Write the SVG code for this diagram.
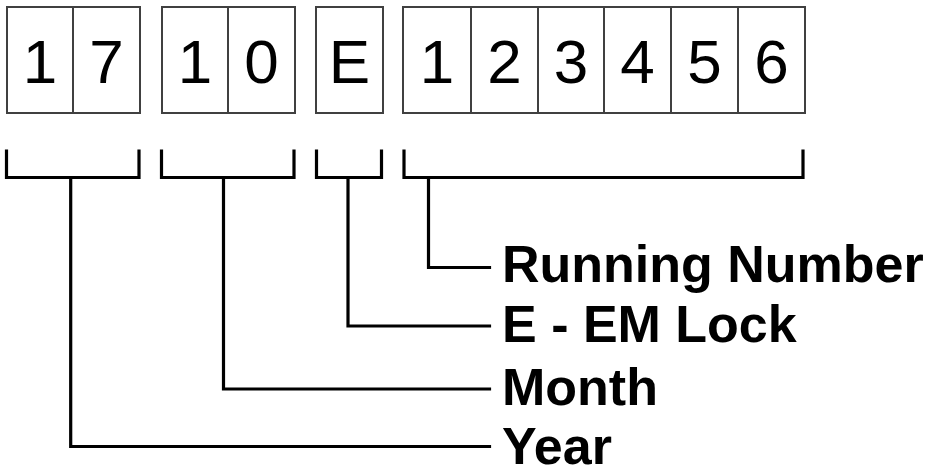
<svg xmlns="http://www.w3.org/2000/svg" width="928" height="470" viewBox="0 0 928 470">
<style>
.box{fill:#fff;stroke:#404040;stroke-width:2}
.dg{font-family:"Liberation Sans",Arial,sans-serif;font-size:62px;fill:#000;text-anchor:middle}
.ln{fill:none;stroke:#000;stroke-width:3.2;stroke-linecap:square;stroke-linejoin:miter}
.lb{font-family:"Liberation Sans",Arial,sans-serif;font-size:52px;font-weight:bold;fill:#000}
</style>
<rect width="928" height="470" fill="#fff"/>
<g id="year-boxes">
<rect class="box" x="7" y="7" width="133" height="106"/>
<line class="box" x1="73" y1="7" x2="73" y2="113"/>
<text class="dg" x="40" y="83">1</text>
<text class="dg" x="106.5" y="83">7</text>
</g>
<g id="month-boxes">
<rect class="box" x="162" y="7" width="133" height="106"/>
<line class="box" x1="228" y1="7" x2="228" y2="113"/>
<text class="dg" x="195" y="83">1</text>
<text class="dg" x="261.5" y="83">0</text>
</g>
<g id="type-box">
<rect class="box" x="316" y="7" width="67" height="106"/>
<text class="dg" x="349.5" y="83">E</text>
</g>
<g id="number-boxes">
<rect class="box" x="403" y="7" width="402" height="106"/>
<line class="box" x1="471" y1="7" x2="471" y2="113"/>
<line class="box" x1="538" y1="7" x2="538" y2="113"/>
<line class="box" x1="604" y1="7" x2="604" y2="113"/>
<line class="box" x1="671" y1="7" x2="671" y2="113"/>
<line class="box" x1="738" y1="7" x2="738" y2="113"/>
<text class="dg" x="437" y="83">1</text>
<text class="dg" x="504.5" y="83">2</text>
<text class="dg" x="571" y="83">3</text>
<text class="dg" x="637.5" y="83">4</text>
<text class="dg" x="704.5" y="83">5</text>
<text class="dg" x="771.5" y="83">6</text>
</g>
<g id="connectors">
<path class="ln" d="M6.5,151 V177.5 H139 V151"/>
<path class="ln" d="M161.5,151 V177.5 H294 V151"/>
<path class="ln" d="M316.5,151 V177.5 H381.5 V151"/>
<path class="ln" d="M404,151 V177.5 H803 V151"/>
<path class="ln" d="M70.7,179 V446.5 H489.5"/>
<path class="ln" d="M223.5,179 V389 H489.5"/>
<path class="ln" d="M348,179 V326 H489.5"/>
<path class="ln" d="M428.5,179 V267.5 H489.5"/>
</g>
<g id="label-running">
<text class="lb" x="502" y="282">Running Number</text>
</g>
<g id="label-em">
<text class="lb" x="502" y="342">E - EM Lock</text>
</g>
<g id="label-month">
<text class="lb" x="502" y="405">Month</text>
</g>
<g id="label-year">
<text class="lb" x="502" y="464">Year</text>
</g>
</svg>
